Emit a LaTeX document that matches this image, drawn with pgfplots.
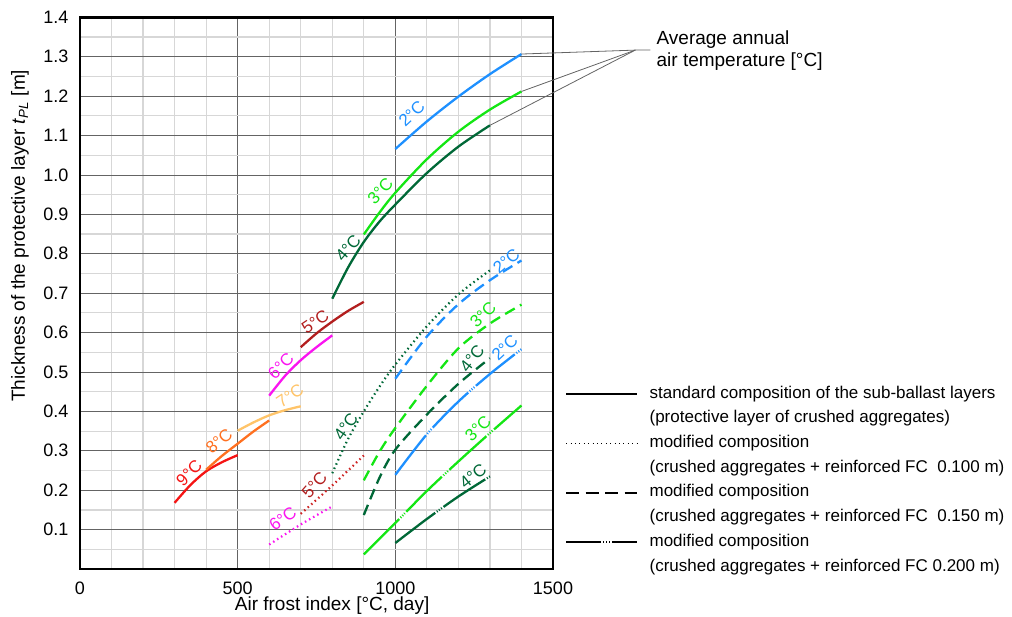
\documentclass[border=0pt]{standalone}
\usepackage{fontspec}
\setmainfont{Liberation Sans}
\usepackage{pgfplots}
\pgfplotsset{compat=1.18}

\definecolor{c2}{RGB}{30,144,255}
\definecolor{c3}{RGB}{20,230,20}
\definecolor{c4}{RGB}{0,104,55}
\definecolor{c5}{RGB}{178,30,30}
\definecolor{c5d}{RGB}{205,35,35}
\definecolor{c6}{RGB}{250,20,240}
\definecolor{c7}{RGB}{255,196,105}
\definecolor{c8}{RGB}{255,112,32}
\definecolor{c9}{RGB}{245,20,20}
\definecolor{majgrid}{RGB}{100,100,100}
\definecolor{mingrid}{RGB}{215,215,215}

\tikzset{
 std/.style={line width=2.3pt},
 dot/.style={line width=2.2pt, dash pattern=on 1.5pt off 3.2pt},
 dsh/.style={line width=2.3pt, dash pattern=on 11pt off 6pt},
 ddd/.style={line width=2.3pt, dash pattern=on 50pt off 2pt on 1pt off 1.6pt on 1pt off 1.6pt on 1pt off 2pt},
 lab/.style={font=\fontsize{17}{17}\selectfont, inner sep=0pt},
}

\begin{document}
\begin{tikzpicture}
\path[use as bounding box] (-80pt,-47pt) rectangle (932pt,569pt);
\begin{axis}[
 at={(0pt,0pt)}, anchor=south west,
 scale only axis, width=473pt, height=551.6pt,
 xmin=0, xmax=1500, ymin=0, ymax=1.4,
 xtick={0,500,1000,1500},
 ytick={0.1,0.2,0.3,0.4,0.5,0.6,0.7,0.8,0.9,1.0,1.1,1.2,1.3,1.4},
 minor xtick={100,200,300,400,600,700,800,900,1100,1200,1300,1400},
 minor ytick={0.05,0.15,0.25,0.35,0.45,0.55,0.65,0.75,0.85,0.95,1.05,1.15,1.25,1.35},
 grid=both,
 major grid style={draw=majgrid, line width=0.9pt},
 minor grid style={draw=mingrid, line width=1.2pt},
 major tick length=0pt, minor tick length=0pt,
 axis line style={line width=2.4pt, black},
 /pgf/number format/assume math mode=true,
 tick label style={font=\fontsize{18}{18}\selectfont},
 yticklabel style={/pgf/number format/.cd, fixed, fixed zerofill, precision=1, /tikz/.cd, xshift=-8pt},
 xticklabel style={/pgf/number format/.cd, 1000 sep={}, /tikz/.cd, yshift=-9pt},
 xlabel={Air frost index [°C, day]},
 ylabel={Thickness of the protective layer \textit{t}\textsubscript{\textit{PL}} [m]},
 label style={font=\fontsize{19}{19}\selectfont},
 xlabel style={at={(axis description cs:0.533,-0.067)}, anchor=center},
 ylabel style={at={(axis description cs:-0.127,0.604)}, anchor=center},
 clip=false,
 legend style={at={(axis description cs:1.0254,0.3324)}, anchor=north west, draw=none, fill=none,
   inner sep=0pt, outer sep=0pt, row sep=8pt, column sep=11.3pt,
   font=\fontsize{17}{17}\selectfont,
   nodes={inner sep=0pt, text height=12.5pt, text depth=4.2pt}},
 legend cell align=left,
 legend image code/.code={\draw[#1] (0pt,0pt) -- (71pt,0pt);},
]
% legend
\addlegendimage{black, line width=2pt}
\addlegendentry{standard composition of the sub-ballast layers}
\addlegendimage{empty legend}
\addlegendentry{(protective layer of crushed aggregates)}
\addlegendimage{black, line width=1.4pt, dash pattern=on 1pt off 3.4pt}
\addlegendentry{modified composition}
\addlegendimage{empty legend}
\addlegendentry{(crushed aggregates + reinforced FC\ \ 0.100 m)}
\addlegendimage{black, line width=2.3pt, dash pattern=on 13pt off 6.5pt}
\addlegendentry{modified composition}
\addlegendimage{empty legend}
\addlegendentry{(crushed aggregates + reinforced FC\ \ 0.150 m)}
\addlegendimage{black, line width=2.3pt, dash pattern=on 35pt off 2pt on 1pt off 2pt on 1pt off 2pt on 1pt off 2pt}
\addlegendentry{modified composition}
\addlegendimage{empty legend}
\addlegendentry{(crushed aggregates + reinforced FC 0.200 m)}

% standard composition
\addplot[c9, std, smooth, forget plot] coordinates {(300,0.168) (350,0.213) (400,0.248) (450,0.271) (500,0.289)};
\addplot[c8, std, smooth, forget plot] coordinates {(400,0.252) (450,0.287) (500,0.318) (550,0.349) (600,0.377)};
\addplot[c7, std, smooth, forget plot] coordinates {(500,0.351) (550,0.372) (600,0.390) (650,0.403) (700,0.413)};
\addplot[c6, std, smooth, forget plot] coordinates {(600,0.440) (650,0.490) (700,0.530) (750,0.563) (800,0.593)};
\addplot[c5, std, smooth, forget plot] coordinates {(700,0.563) (750,0.598) (800,0.628) (850,0.655) (900,0.678)};
\addplot[c4, std, smooth, forget plot] coordinates {(800,0.686) (850,0.765) (900,0.830) (950,0.882) (1000,0.925) (1100,1.005) (1200,1.072) (1300,1.126)};
\addplot[c3, std, smooth, forget plot] coordinates {(900,0.849) (950,0.905) (1000,0.955) (1100,1.040) (1200,1.110) (1300,1.166) (1400,1.212)};
\addplot[c2, std, smooth, forget plot] coordinates {(1000,1.066) (1100,1.136) (1200,1.199) (1300,1.256) (1400,1.307)};

% modified 0.100 m (dotted)
\addplot[c6, dot, smooth, forget plot] coordinates {(600,0.062) (700,0.113) (800,0.159)};
\addplot[c5d, dot, smooth, forget plot] coordinates {(700,0.140) (800,0.212) (900,0.288)};
\addplot[c4, dot, smooth, forget plot] coordinates {(800,0.243) (850,0.330) (900,0.400) (950,0.463) (1000,0.519) (1100,0.616) (1200,0.697) (1300,0.758)};

% modified 0.150 m (dashed)
\addplot[c2, dsh, smooth, forget plot] coordinates {(1000,0.483) (1100,0.590) (1200,0.672) (1300,0.733) (1400,0.783)};
\addplot[c3, dsh, smooth, forget plot] coordinates {(900,0.225) (950,0.298) (1000,0.358) (1100,0.465) (1200,0.560) (1300,0.623) (1400,0.671)};
\addplot[c4, dsh, smooth, forget plot] coordinates {(900,0.137) (950,0.232) (1000,0.303) (1100,0.392) (1200,0.470) (1300,0.535)};

% modified 0.200 m (dash-dot-dot)
\addplot[c2, ddd, smooth, forget plot] coordinates {(1000,0.239) (1100,0.342) (1200,0.425) (1300,0.495) (1400,0.558)};
\addplot[c3, ddd, smooth, forget plot] coordinates {(900,0.037) (1000,0.117) (1100,0.198) (1200,0.273) (1300,0.345) (1400,0.415)};
\addplot[c4, ddd, smooth, forget plot] coordinates {(1000,0.066) (1100,0.127) (1200,0.184) (1300,0.235)};

% curve labels
\node[lab, text=c2, rotate=43] at (axis cs:1052,1.155) {2°C};
\node[lab, text=c3, rotate=47] at (axis cs:952,0.960) {3°C};
\node[lab, text=c4, rotate=49] at (axis cs:850,0.815) {4°C};
\node[lab, text=c5, rotate=34] at (axis cs:746,0.628) {5°C};
\node[lab, text=c6, rotate=45] at (axis cs:637,0.515) {6°C};
\node[lab, text=c7, rotate=34] at (axis cs:666,0.440) {7°C};
\node[lab, text=c8, rotate=40] at (axis cs:441,0.324) {8°C};
\node[lab, text=c9, rotate=45] at (axis cs:346,0.243) {9°C};
\node[lab, text=c6, rotate=36] at (axis cs:643,0.128) {6°C};
\node[lab, text=c5, rotate=49] at (axis cs:743,0.213) {5°C};
\node[lab, text=c4, rotate=55] at (axis cs:843,0.362) {4°C};
\node[lab, text=c2, rotate=40] at (axis cs:1352,0.781) {2°C};
\node[lab, text=c3, rotate=43] at (axis cs:1278,0.645) {3°C};
\node[lab, text=c4, rotate=52] at (axis cs:1243,0.535) {4°C};
\node[lab, text=c2, rotate=43] at (axis cs:1347,0.561) {2°C};
\node[lab, text=c3, rotate=43] at (axis cs:1262,0.357) {3°C};
\node[lab, text=c4, rotate=38] at (axis cs:1246,0.235) {4°C};

% annotation
\draw[draw=majgrid, line width=0.8pt] (axis cs:1400,1.307) -- (axis cs:1761,1.317) -- (axis cs:1809,1.317);
\draw[draw=majgrid, line width=0.8pt] (axis cs:1400,1.212) -- (axis cs:1761,1.317);
\draw[draw=majgrid, line width=0.8pt] (axis cs:1300,1.126) -- (axis cs:1761,1.317);
\node[anchor=west, align=left, font=\fontsize{19}{22}\selectfont, inner sep=0pt] at (axis cs:1828,1.316) {Average annual\\air temperature [°C]};
\end{axis}
\end{tikzpicture}
\end{document}
